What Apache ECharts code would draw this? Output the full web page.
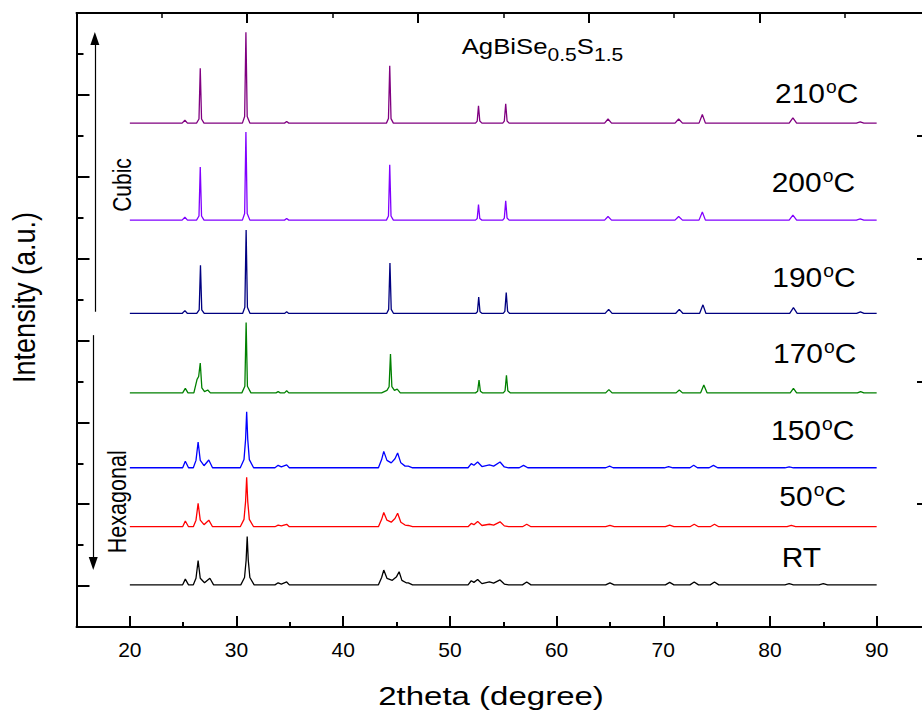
<!DOCTYPE html>
<html>
<head>
<meta charset="utf-8">
<script src="https://cdn.jsdelivr.net/npm/echarts@6/dist/echarts.min.js"></script>
<style>html,body{margin:0;padding:0;background:#fff}#c{width:922px;height:715px}</style>
</head>
<body>
<div id="c"></div>
<script>
// ---------- data (2theta in degrees, intensity in a.u. above each pattern's own baseline) ----------
const xTicks = [20, 30, 40, 50, 60, 70, 80, 90];
const xMinorTicks = [25, 35, 45, 55, 65, 75, 85];
const yMajorTicks = [1, 3, 5, 7, 9, 11, 13, 15];
const yMinorTicks = [2, 4, 6, 8, 10, 12, 14];

const seriesNames = ['RT', '50°C', '150°C', '170°C', '190°C', '200°C', '210°C'];
const offsets = [1.03, 2.45, 3.89, 5.72, 7.66, 9.94, 12.31];

const rt = [[20,0],[24.95,0],[25.2,0.14],[25.5,0],[25.95,0],[26.2,0.16],[26.4,0.59],[26.6,0.16],[27.0,0.05],[27.5,0.16],[27.85,0],
  [30.4,0],[30.75,0.18],[30.9,0.6],[31.0,1.18],[31.1,0.6],[31.25,0.18],[31.65,0],
  [33.6,0],[33.9,0.05],[34.2,0.02],[34.7,0.07],[34.95,0],
  [43.3,0],[43.6,0.18],[43.8,0.36],[44.1,0.16],[44.6,0.11],[45.0,0.2],[45.24,0.32],[45.5,0.11],[45.9,0.05],[46.1,0.05],[46.5,0],
  [51.7,0],[52.0,0.10],[52.25,0.06],[52.6,0.13],[53.0,0.03],[53.7,0.07],[54.1,0.04],[54.7,0.12],[55.1,0.02],[55.5,0],
  [56.8,0],[57.2,0.07],[57.6,0],[64.6,0],[65.0,0.05],[65.4,0],[70.2,0],[70.6,0.06],[71.0,0],
  [72.5,0],[72.9,0.07],[73.3,0],[74.4,0],[74.8,0.07],[75.2,0],[81.4,0],[81.8,0.03],[82.2,0],[84.6,0],[85.0,0.03],[85.4,0],[90,0]];

const t50 = [[20,0],[24.95,0],[25.2,0.14],[25.5,0],[25.95,0],[26.2,0.16],[26.4,0.57],[26.6,0.16],[26.95,0.05],[27.4,0.16],[27.75,0],
  [30.35,0],[30.7,0.18],[30.85,0.62],[30.95,1.21],[31.05,0.62],[31.2,0.18],[31.6,0],
  [33.6,0],[33.9,0.04],[34.2,0.02],[34.7,0.06],[34.95,0],
  [43.3,0],[43.6,0.18],[43.8,0.35],[44.1,0.16],[44.5,0.11],[44.85,0.2],[45.1,0.33],[45.4,0.11],[45.8,0.04],[46.1,0.03],[46.5,0],
  [51.7,0],[52.0,0.08],[52.25,0.05],[52.6,0.13],[53.0,0.03],[53.7,0.06],[54.1,0.04],[54.7,0.12],[55.1,0.02],[55.5,0],
  [56.8,0],[57.2,0.06],[57.6,0],[64.6,0],[65.0,0.03],[65.4,0],[70.2,0],[70.6,0.04],[71.0,0],
  [72.5,0],[72.9,0.06],[73.3,0],[74.4,0],[74.8,0.06],[75.2,0],[81.6,0],[82.0,0.03],[82.4,0],[90,0]];

const t150 = [[20,0],[24.95,0],[25.2,0.16],[25.5,0],[25.95,0],[26.2,0.18],[26.4,0.63],[26.6,0.18],[26.95,0.05],[27.4,0.19],[27.75,0],
  [30.35,0],[30.7,0.2],[30.85,0.7],[30.95,1.37],[31.05,0.7],[31.2,0.2],[31.6,0],
  [33.6,0],[33.9,0.06],[34.2,0.02],[34.7,0.07],[34.95,0],
  [43.3,0],[43.6,0.2],[43.8,0.40],[44.1,0.18],[44.5,0.12],[44.85,0.22],[45.1,0.36],[45.4,0.12],[45.8,0.04],[46.1,0.04],[46.5,0],
  [51.7,0],[52.0,0.10],[52.25,0.06],[52.6,0.14],[53.0,0.03],[53.7,0.07],[54.1,0.04],[54.7,0.14],[55.1,0.02],[55.5,0],
  [56.5,0],[56.9,0.06],[57.3,0],[64.6,0],[64.97,0.04],[65.3,0],[70.1,0],[70.5,0.03],[70.9,0],
  [72.5,0],[72.85,0.06],[73.2,0],[74.3,0],[74.7,0.06],[75.1,0],[81.4,0],[81.8,0.02],[82.2,0],[90,0]];

const t170 = [[20,0],[24.95,0],[25.2,0.11],[25.45,0],[26.0,0],[26.3,0.33],[26.45,0.4],[26.6,0.73],[26.75,0.12],[27.0,0.03],[27.3,0.07],[27.55,0],
  [30.5,0],[30.78,0.16],[30.9,1.72],[31.02,0.16],[31.35,0],
  [33.7,0],[33.9,0.03],[34.1,0],[34.5,0],[34.7,0.05],[34.9,0],
  [43.6,0],[44.1,0.06],[44.3,0.15],[44.43,0.95],[44.56,0.15],[44.8,0.06],[45.06,0.09],[45.35,0],
  [52.4,0],[52.6,0.04],[52.73,0.31],[52.86,0.04],[53.05,0],[55.0,0],[55.17,0.05],[55.3,0.43],[55.43,0.05],[55.65,0],
  [64.6,0],[64.9,0.08],[65.2,0],[71.2,0],[71.5,0.07],[71.8,0],[73.5,0],[73.8,0.19],[74.1,0],
  [81.9,0],[82.2,0.11],[82.5,0],[88.2,0],[88.5,0.03],[88.8,0],[90,0]];

const t190 = [[20,0],[24.9,0],[25.16,0.07],[25.4,0],[26.27,0],[26.5,0.09],[26.62,1.18],[26.74,0.09],[26.97,0],
  [30.57,0],[30.78,0.15],[30.9,2.04],[31.02,0.15],[31.27,0],[34.5,0],[34.7,0.04],[34.9,0],
  [44.07,0],[44.26,0.1],[44.38,1.23],[44.5,0.1],[44.72,0],
  [52.42,0],[52.58,0.04],[52.7,0.40],[52.82,0.04],[53.02,0],[55.0,0],[55.15,0.05],[55.28,0.51],[55.41,0.05],[55.6,0],
  [64.55,0],[64.88,0.10],[65.2,0],[71.15,0],[71.5,0.10],[71.85,0],[73.4,0],[73.72,0.21],[74.0,0],
  [81.85,0],[82.2,0.14],[82.55,0],[88.12,0],[88.48,0.04],[88.82,0],[90,0]];

const t200 = [[20,0],[24.9,0],[25.16,0.07],[25.4,0],[26.25,0],[26.48,0.1],[26.6,1.30],[26.72,0.1],[26.95,0],
  [30.55,0],[30.76,0.16],[30.88,2.15],[31.0,0.16],[31.25,0],[34.5,0],[34.7,0.04],[34.9,0],
  [44.05,0],[44.24,0.1],[44.36,1.35],[44.48,0.1],[44.7,0],
  [52.4,0],[52.56,0.04],[52.68,0.38],[52.8,0.04],[53.0,0],[54.95,0],[55.1,0.05],[55.23,0.47],[55.36,0.05],[55.55,0],
  [64.5,0],[64.82,0.09],[65.15,0],[71.1,0],[71.44,0.09],[71.8,0],[73.35,0],[73.66,0.20],[73.95,0],
  [81.8,0],[82.15,0.12],[82.5,0],[88.1,0],[88.46,0.03],[88.8,0],[90,0]];

const t210 = [[20,0],[24.9,0],[25.16,0.07],[25.4,0],[26.25,0],[26.48,0.1],[26.6,1.34],[26.72,0.1],[26.95,0],
  [30.55,0],[30.76,0.16],[30.88,2.22],[31.0,0.16],[31.25,0],[34.5,0],[34.7,0.04],[34.9,0],
  [44.05,0],[44.24,0.11],[44.36,1.40],[44.48,0.11],[44.7,0],
  [52.4,0],[52.56,0.05],[52.68,0.42],[52.8,0.05],[53.0,0],[54.95,0],[55.1,0.05],[55.23,0.47],[55.36,0.05],[55.55,0],
  [64.5,0],[64.82,0.10],[65.15,0],[71.1,0],[71.44,0.10],[71.8,0],[73.35,0],[73.66,0.21],[73.95,0],
  [81.8,0],[82.15,0.13],[82.5,0],[88.1,0],[88.46,0.03],[88.8,0],[90,0]];

const patterns = [rt, t50, t150, t170, t190, t200, t210];

// phase-arrow annotations in data units: [2theta, from intensity, to intensity]
const cubicArrow = [16.72, 7.70, 14.38];
const hexArrow = [16.57, 7.13, 1.55];

// ---------- styling ----------
const FF = '"Liberation Sans", Arial, Helvetica, sans-serif';
const colors = ['#000000', '#ff0000', '#0000ff', '#008000', '#000080', '#8000ff', '#800080'];
const black = '#000';

const series = patterns.map((pts, i) => ({
  type: 'line',
  name: seriesNames[i],
  xAxisIndex: 0,
  yAxisIndex: 0,
  data: pts.map(p => [p[0], p[1] + offsets[i]]),
  showSymbol: false,
  symbol: 'none',
  silent: true,
  animation: false,
  lineStyle: { color: colors[i], width: 1.3 },
  z: 3
}));

series[0].markLine = {
  silent: true,
  animation: false,
  symbol: ['none', 'triangle'],
  symbolSize: [9, 13],
  label: { show: false },
  lineStyle: { color: black, width: 1.2, type: 'solid' },
  emphasis: { disabled: true },
  data: [
    [{ coord: [cubicArrow[0], cubicArrow[1]] }, { coord: [cubicArrow[0], cubicArrow[2]] }],
    [{ coord: [hexArrow[0], hexArrow[1]] }, { coord: [hexArrow[0], hexArrow[2]] }]
  ]
};

// rich tokens: with verticalAlign 'top', glyph centre = lineTop + paddingTop + fontSize/2
function tempLabel(text, hasDeg, x, capTop) {
  const rich = {
    n: { fontSize: 28, lineHeight: 34, verticalAlign: 'top', padding: [2, 0, 0, 0], fontFamily: FF, fill: black },
    s: { fontSize: 18, lineHeight: 34, verticalAlign: 'top', padding: [0.5, 0, 0, 1], fontFamily: FF, fill: black }
  };
  return {
    type: 'text', x: x, y: capTop - 5.7, scaleX: 1.07, silent: true, z: 10,
    style: {
      text: hasDeg ? '{n|' + text + '}{s|o}{n|C}' : '{n|' + text + '}',
      rich: rich, align: 'left', verticalAlign: 'top'
    }
  };
}

const labelNums = ['RT', '50', '150', '170', '190', '200', '210'];
const labelPos = [[781.7, 547.3], [779.3, 486], [771, 420], [773, 343.3], [772.3, 267], [771.7, 171.7], [775, 83.3]];

const graphic = labelNums.map((t, i) => tempLabel(t, i > 0, labelPos[i][0], labelPos[i][1]));

graphic.push({
  type: 'text', x: 461.7, y: 34.8, scaleX: 1.17, silent: true, z: 10,
  style: {
    text: '{m|AgBiSe}{b|0.5}{m|S}{b|1.5}',
    rich: {
      m: { fontSize: 22, lineHeight: 34, verticalAlign: 'top', padding: [0, 0, 0, 0], fontFamily: FF, fill: black },
      b: { fontSize: 18, lineHeight: 34, verticalAlign: 'top', padding: [11, 0, 0, 0], fontFamily: FF, fill: black }
    },
    align: 'left', verticalAlign: 'top'
  }
});
graphic.push({
  type: 'text', x: 122, y: 185, rotation: Math.PI / 2, scaleY: 1.2, silent: true, z: 10,
  style: { text: 'Cubic', fontSize: 21, fontFamily: FF, fill: black, align: 'center', verticalAlign: 'middle' }
});
graphic.push({
  type: 'text', x: 116.3, y: 501.7, rotation: Math.PI / 2, scaleY: 1.2, silent: true, z: 10,
  style: { text: 'Hexagonal', fontSize: 21.6, fontFamily: FF, fill: black, align: 'center', verticalAlign: 'middle' }
});
graphic.push({
  type: 'text', x: 24.5, y: 297.4, rotation: Math.PI / 2, scaleY: 1.14, silent: true, z: 10,
  style: { text: 'Intensity (a.u.)', fontSize: 27, fontFamily: FF, fill: black, align: 'center', verticalAlign: 'middle' }
});
graphic.push({
  type: 'text', x: 491, y: 696, scaleX: 1.27, silent: true, z: 10,
  style: { text: '2theta (degree)', fontSize: 26, fontFamily: FF, fill: black, align: 'center', verticalAlign: 'middle' }
});

const lineS = { color: black, width: 2 };

const option = {
  animation: false,
  backgroundColor: '#fff',
  grid: { left: 76.5, top: 13, width: 853.5, height: 614, containLabel: false, outerBoundsMode: 'none' },
  xAxis: [
    {
      type: 'value', position: 'bottom', min: 15, max: 95,
      axisLine: { show: true, onZero: false, lineStyle: lineS },
      axisTick: { show: true, inside: true, length: 11, customValues: xTicks, lineStyle: lineS },
      axisLabel: { show: true, customValues: xTicks, margin: 12, fontSize: 21, fontFamily: FF, color: black },
      splitLine: { show: false }
    },
    {
      type: 'value', position: 'bottom', min: 15, max: 95,
      axisLine: { show: false, onZero: false },
      axisTick: { show: true, inside: true, length: 5, customValues: xMinorTicks, lineStyle: lineS },
      axisLabel: { show: false },
      splitLine: { show: false }
    },
    {
      type: 'value', position: 'top', min: 0, max: 5, interval: 1,
      axisLine: { show: true, onZero: false, lineStyle: lineS },
      axisTick: { show: true, inside: true, length: 10, lineStyle: lineS },
      minorTick: { show: true, splitNumber: 2, length: 5, lineStyle: { color: black, width: 1.5 } },
      axisLabel: { show: false },
      splitLine: { show: false }, minorSplitLine: { show: false }
    }
  ],
  yAxis: [
    {
      type: 'value', position: 'left', min: 0, max: 15,
      axisLine: { show: true, onZero: false, lineStyle: lineS },
      axisTick: { show: true, inside: true, length: 13, customValues: yMajorTicks, lineStyle: lineS },
      axisLabel: { show: false },
      splitLine: { show: false }
    },
    {
      type: 'value', position: 'left', min: 0, max: 15,
      axisLine: { show: false, onZero: false },
      axisTick: { show: true, inside: true, length: 7, customValues: yMinorTicks, lineStyle: lineS },
      axisLabel: { show: false },
      splitLine: { show: false }
    },
    {
      type: 'value', position: 'right', min: 0, max: 5, interval: 1,
      axisLine: { show: true, onZero: false, lineStyle: lineS },
      axisTick: { show: true, inside: true, length: 13, lineStyle: lineS },
      minorTick: { show: true, splitNumber: 2, length: 7, lineStyle: { color: black, width: 1.5 } },
      axisLabel: { show: false },
      splitLine: { show: false }, minorSplitLine: { show: false }
    }
  ],
  series: series,
  graphic: graphic
};

const chart = echarts.init(document.getElementById('c'), null, { renderer: 'svg', width: 922, height: 715 });
chart.setOption(option);
</script>
</body>
</html>
